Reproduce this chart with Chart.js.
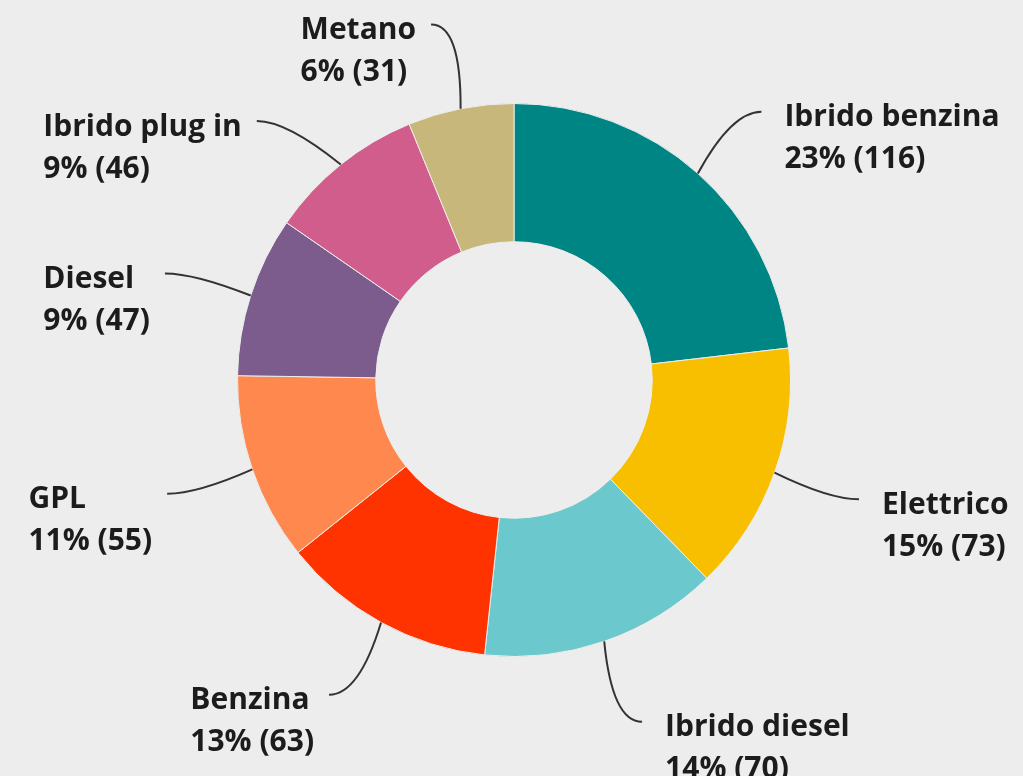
<!DOCTYPE html>
<html>
<head>
<meta charset="utf-8">
<script src="https://cdn.jsdelivr.net/npm/chart.js@4"></script>
<style>
  html, body { margin: 0; padding: 0; background: #ededed; }
  #wrap { width: 1023px; height: 776px; }
</style>
</head>
<body>
<div id="wrap"><canvas id="myChart" width="1023" height="776"></canvas></div>
<script>
const labels = ['Ibrido benzina', 'Elettrico', 'Ibrido diesel', 'Benzina', 'GPL', 'Diesel', 'Ibrido plug in', 'Metano'];
const counts = [116, 73, 70, 63, 55, 47, 46, 31];
const colors = ['#008585', '#f8bf00', '#6bc8cc', '#ff3300', '#ff884f', '#7b5c8c', '#d15d8d', '#c8b77a'];

// small hand nudges (degrees) for where each callout ends, like the original layout
const labelNudge = [1, -0.5, -1.5, 1.7, 0.7, -0.8, -6, -2];

const total = counts.reduce((a, b) => a + b, 0);

// leader lines + two-line labels
const calloutPlugin = {
  id: 'callouts',
  afterDraw(chart) {
    const ctx = chart.ctx;
    const meta = chart.getDatasetMeta(0);
    ctx.save();
    ctx.font = '700 30px "Open Sans"';
    ctx.textBaseline = 'middle';
    meta.data.forEach((arc, i) => {
      const mid = (arc.startAngle + arc.endAngle) / 2;
      const sx = arc.x + Math.cos(mid) * arc.outerRadius;
      const sy = arc.y + Math.sin(mid) * arc.outerRadius;
      const a2 = mid + labelNudge[i] * Math.PI / 180;
      const ex = arc.x + Math.cos(a2) * 365, ey = arc.y + Math.sin(a2) * 365;
      const right = Math.cos(mid) >= 0;
      const cx = ex + (right ? -30 : 30);

      ctx.strokeStyle = '#333';
      ctx.lineWidth = 2;
      ctx.beginPath();
      ctx.moveTo(sx, sy);
      ctx.quadraticCurveTo(cx, ey, ex, ey);
      ctx.stroke();

      const line1 = labels[i];
      const line2 = Math.round(counts[i] / total * 100) + '% (' + counts[i] + ')';
      const w = Math.max(ctx.measureText(line1).width, ctx.measureText(line2).width);
      const tx = right ? ex + 23 : ex - 15 - w;
      ctx.fillStyle = '#1c1c1c';
      ctx.textAlign = 'left';
      ctx.fillText(line1, tx, ey + 6);
      ctx.fillText(line2, tx, ey + 48);
    });
    ctx.restore();
  }
};

const config = {
  type: 'doughnut',
  data: {
    labels: labels,
    datasets: [{
      data: counts,
      backgroundColor: colors,
      borderColor: '#ededed',
      borderWidth: 1
    }]
  },
  options: {
    responsive: false,
    animation: false,
    cutout: '50%',
    layout: { padding: { left: 237, right: 232, top: 103, bottom: 119 } },
    plugins: {
      legend: { display: false },
      tooltip: { enabled: false }
    }
  },
  plugins: [calloutPlugin]
};

new Chart(document.getElementById('myChart').getContext('2d'), config);
</script>
</body>
</html>
